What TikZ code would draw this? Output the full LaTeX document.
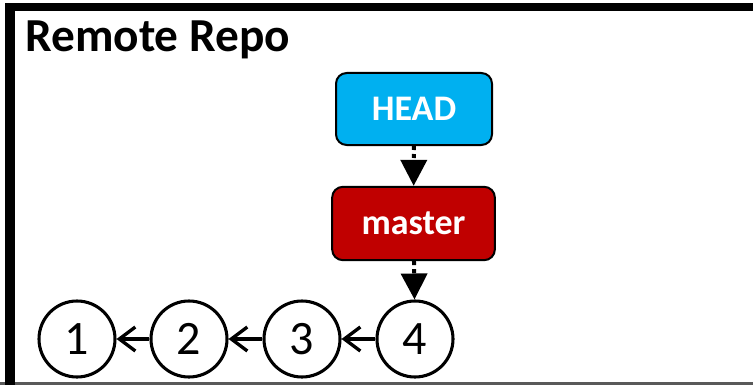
\documentclass[tikz,border=0pt]{standalone}
\usepackage{fontspec}
\setmainfont{Carlito}
\usetikzlibrary{arrows.meta}
\definecolor{headblue}{RGB}{0,176,240}
\definecolor{branchred}{RGB}{192,0,0}
\definecolor{framegray}{RGB}{89,89,89}

\begin{document}
\begin{tikzpicture}[x=0.75pt,y=-0.75pt,
    refbox/.style={draw=black,line width=1.5pt,rounded corners=8pt,inner sep=0pt,
      text=white,font=\fontsize{27}{32}\selectfont\bfseries},
    commit/.style={circle,draw=black,line width=2.3pt,minimum size=57pt,inner sep=0pt,
      font=\fontsize{36}{42}\selectfont},
    pointer/.style={line width=3pt,dash pattern=on 3pt off 3pt,
      -{Triangle[width=19.5pt,length=19.5pt]}},
    parent/.style={line width=2.5pt,-{Straight Barb[length=12pt,width=18pt]}}]
  \useasboundingbox (0,0) rectangle (753,385);
  % frame of the repo
  \fill[framegray] (0,382) rectangle (753,385);
  \fill[black] (5,3) rectangle (753,11);
  \fill[black] (5,3) rectangle (15,385);
  \node[anchor=base west,inner sep=0pt,font=\fontsize{35.5}{42}\selectfont\bfseries] (title) at (25,52) {Remote Repo};
  % refs
  \node[refbox,fill=headblue,minimum width=117pt,minimum height=54pt] (head) at (414,109) {HEAD};
  \node[refbox,fill=branchred,minimum width=122pt,minimum height=55pt] (master) at (413.5,223.5) {master};
  % commits
  \foreach \i/\x in {1/77,2/189,3/302,4/415}
    \node[commit] (c\i) at (\x,339) {\i};
  \foreach \i/\j in {2/1,3/2,4/3}
    \draw[parent] (c\i) -- (c\j);
  \draw[pointer] (head) -- (master);
  \draw[pointer] (master) -- (c4);
\end{tikzpicture}
\end{document}
